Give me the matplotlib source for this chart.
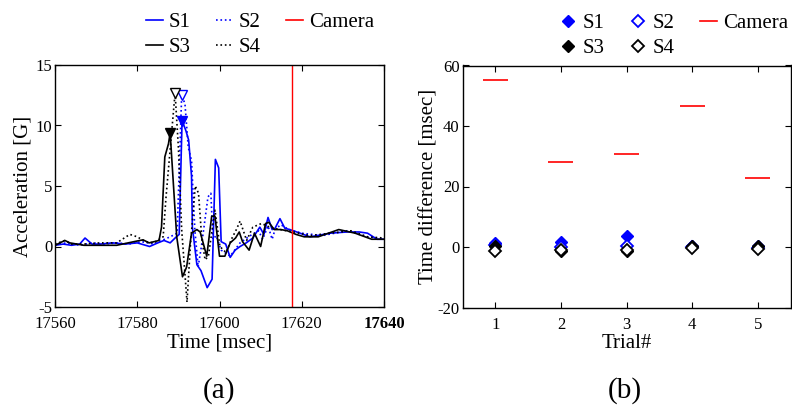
import matplotlib
matplotlib.use("Agg")
import matplotlib.pyplot as plt
import numpy as np
from matplotlib.lines import Line2D

plt.rcParams['font.family'] = ['Liberation Serif', 'DejaVu Serif']
plt.rcParams['axes.unicode_minus'] = False

# ---------------- data: panel (a) ----------------
s1_t = [17560, 17562, 17564, 17566, 17567.3, 17569, 17571, 17574, 17577, 17580, 17583,
        17585, 17586.5, 17588, 17589.2, 17590.2, 17590.9, 17591.8, 17592.5, 17593.2, 17593.4,
        17594.5, 17595.5, 17597.0, 17598.2, 17599.0, 17599.8, 17600.4, 17601.5, 17602.6,
        17603.8, 17605.0, 17606.5, 17608.1, 17609.8, 17610.8, 17611.8, 17612.8, 17613.5,
        17614.7, 17615.9, 17617.1, 17619.6, 17622, 17626.9, 17631, 17634, 17636, 17638.3, 17640]
s1_y = [0.1, 0.2, 0.1, 0.2, 0.7, 0.2, 0.2, 0.3, 0.2, 0.3, 0.0,
        0.3, 0.5, 0.3, 0.7, 1.0, 10.4, 9.6, 8.8, 5.8, 1.6,
        -1.5, -2.0, -3.4, -2.7, 7.2, 6.5, 0.4, 0.2, -0.9,
        -0.3, 0.0, 0.3, 0.7, 1.6, 1.0, 2.4, 1.4, 1.5,
        2.3, 1.5, 1.4, 1.1, 0.8, 1.1, 1.2, 1.2, 1.1, 0.6, 0.6]

s2_t = [17560, 17563, 17566, 17569, 17572, 17575, 17578, 17581, 17584, 17586, 17588.0,
        17589.7, 17590.8, 17591.6, 17592.4, 17593.2, 17594.0, 17594.8, 17595.6, 17597.2,
        17597.9, 17598.4, 17599.2, 17600.4, 17602.6, 17605.0, 17607.5, 17609.5, 17610.5,
        17611.8, 17612.8, 17613.5, 17614.9, 17616.9, 17620, 17625, 17631, 17636, 17638.3, 17640]
s2_y = [0.2, 0.3, 0.1, 0.3, 0.2, 0.3, 0.2, 0.4, 0.2, 0.5, 0.8,
        1.1, 12.5, 11.8, 8.2, 7.1, 1.4, -1.7, 0.0, 4.1,
        4.4, 0.6, 0.9, -0.3, -0.8, 0.3, 0.9, 1.3, 0.6,
        1.7, 0.6, 1.4, 1.8, 1.4, 1.1, 0.9, 1.3, 0.8, 0.7, 0.6]

s3_t = [17560, 17562.4, 17563.6, 17567, 17571, 17575, 17579.2, 17581.4, 17582.9, 17585.3,
        17585.9, 17586.7, 17587.6, 17588.0, 17589.6, 17591.0, 17592.0, 17593.2, 17594.5,
        17595.3, 17596.9, 17598.1, 17598.9, 17600.0, 17601.3, 17602.6, 17603.9, 17604.8,
        17605.6, 17607.2, 17608.5, 17610.0, 17611.2, 17612.0, 17613.3, 17614.9, 17616.5,
        17618.6, 17620.6, 17624.0, 17629.0, 17633, 17637, 17640]
s3_y = [0.1, 0.5, 0.3, 0.1, 0.1, 0.1, 0.4, 0.55, 0.3, 0.5,
        1.6, 7.4, 8.5, 9.4, 0.8, -2.5, -1.7, 1.1, 1.4,
        1.2, -0.8, 2.5, 2.5, -0.8, -0.8, 0.3, 0.7, 1.2,
        0.4, -0.3, 1.1, 0.0, 1.9, 2.0, 1.4, 1.4, 1.3,
        1.0, 0.8, 0.8, 1.4, 1.1, 0.6, 0.6]

s4_t = [17560, 17562.4, 17564, 17567, 17571, 17575, 17578.2, 17580, 17582, 17584, 17586.3,
        17587.0, 17589.2, 17590.0, 17590.8, 17592.1, 17592.9, 17594.1, 17594.9, 17595.7,
        17596.5, 17597.3, 17598.9, 17600.1, 17601.6, 17602.9, 17604.1, 17605.0, 17606.6,
        17608.1, 17610.2, 17612.2, 17614.7, 17618, 17622, 17627, 17632, 17636, 17640]
s4_y = [0.2, 0.5, 0.2, 0.2, 0.3, 0.3, 1.0, 0.8, 0.4, 0.3, 0.8,
        4.1, 12.7, 8.2, 1.4, -4.6, 0.0, 5.0, 4.4, 0.6,
        -1.1, -0.8, 3.0, 0.0, -0.5, 0.6, 1.4, 2.1, 0.5,
        1.6, 1.9, 1.6, 1.4, 1.2, 0.9, 1.1, 1.3, 0.8, 0.7]

camera_time = 17617.6

# ---------------- data: panel (b) ----------------
trials = [1, 2, 3, 4, 5]
b_s1 = [1.3, 1.7, 3.8, 0.3, 0.3]
b_s2 = [0.5, 0.0, 0.2, 0.0, -0.3]
b_s3 = [0.2, -1.4, -1.4, 0.2, 0.2]
b_s4 = [-1.2, -0.9, -1.0, -0.3, -0.6]
b_camera = [55.1, 28.0, 30.7, 46.5, 22.7]

BLUE = '#0000ff'
RED = '#ff0000'

fig = plt.figure(figsize=(7.92, 4.09), dpi=100)
W, H = 792.0, 409.0

def frac(x0, y0, x1, y1):
    return [x0 / W, 1 - y1 / H, (x1 - x0) / W, (y1 - y0) / H]

ax1 = fig.add_axes(frac(55, 65, 384, 307))
ax2 = fig.add_axes(frac(462.5, 65.5, 790.5, 307.5))

tick_fs = 12
label_fs = 15

for ax in (ax1, ax2):
    ax.tick_params(direction='in', length=4, width=0.8, top=True, right=True,
                   labelsize=tick_fs)
    ax.tick_params(axis='x', pad=6.5)
    ax.tick_params(axis='y', pad=2)
    for sp in ax.spines.values():
        sp.set_linewidth(1.0)

# panel (a)
lw = 1.2
ax1.plot(s1_t, s1_y, color=BLUE, lw=lw, ls='-', label='S1')
ax1.plot(s2_t, s2_y, color=BLUE, lw=lw, ls=':', label='S2')
ax1.plot(s3_t, s3_y, color='black', lw=lw, ls='-', label='S3')
ax1.plot(s4_t, s4_y, color='black', lw=lw, ls=':', label='S4')
ax1.axvline(camera_time, color=RED, lw=1.0, label='Camera')

for tt, yy, col, fill in [(s1_t, s1_y, BLUE, True), (s2_t, s2_y, BLUE, False),
                          (s3_t, s3_y, 'black', True), (s4_t, s4_y, 'black', False)]:
    i = int(np.argmax(yy))
    ax1.plot([tt[i]], [yy[i]], marker='v', ms=7, mec=col,
             mfc=col if fill else 'white', mew=1.0, ls='none', zorder=5)

ax1.set_xlim(17560, 17640)
ax1.set_ylim(-5, 15)
ax1.set_xticks([17560, 17580, 17600, 17620, 17640])
ax1.set_yticks([-5, 0, 5, 10, 15])
ax1.set_xlabel('Time [msec]', fontsize=label_fs, labelpad=1)
ax1.set_ylabel('Acceleration [G]', fontsize=label_fs, labelpad=2)
xtl = ax1.get_xticklabels()
xtl[-1].set_fontweight('bold')

# panel (b)
ms = 6.5
ax2.plot(trials, b_s1, ls='none', marker='D', ms=ms, mfc=BLUE, mec=BLUE, label='S1')
ax2.plot(trials, b_s2, ls='none', marker='D', ms=ms, mfc='white', mec=BLUE, mew=1.3, label='S2')
ax2.plot(trials, b_s3, ls='none', marker='D', ms=ms, mfc='black', mec='black', label='S3')
ax2.plot(trials, b_s4, ls='none', marker='D', ms=ms, mfc='white', mec='black', mew=1.3, label='S4')
ax2.hlines(b_camera, np.array(trials) - 0.19, np.array(trials) + 0.19, color=RED, lw=1.2)

ax2.set_xlim(0.5, 5.5)
ax2.set_ylim(-20, 60)
ax2.set_xticks(trials)
ax2.set_yticks([-20, 0, 20, 40, 60])
ax2.set_xlabel('Trial#', fontsize=label_fs, labelpad=1)
ax2.set_ylabel('Time difference [msec]', fontsize=label_fs)
ax2.yaxis.set_label_coords(-0.072, 0.5)

for ax in (ax1, ax2):
    for lab in ax.get_yticklabels():
        lab.set_verticalalignment('center_baseline')

# legends
h_a = [Line2D([], [], color=BLUE, lw=lw, ls='-'), Line2D([], [], color='black', lw=lw, ls='-'),
       Line2D([], [], color=BLUE, lw=lw, ls=':'), Line2D([], [], color='black', lw=lw, ls=':'),
       Line2D([], [], color=RED, lw=1.2)]
l_a = ['S1', 'S3', 'S2', 'S4', 'Camera']
fig.legend(h_a, l_a, loc='center', bbox_to_anchor=(260 / W, 1 - 35 / H), ncol=3,
           frameon=False, fontsize=label_fs, handlelength=0.8, handletextpad=0.3,
           columnspacing=1.2, labelspacing=0.25, borderpad=0)

h_b = [Line2D([], [], ls='none', marker='D', ms=ms, mfc=BLUE, mec=BLUE),
       Line2D([], [], ls='none', marker='D', ms=ms, mfc='black', mec='black'),
       Line2D([], [], ls='none', marker='D', ms=ms, mfc='white', mec=BLUE, mew=1.3),
       Line2D([], [], ls='none', marker='D', ms=ms, mfc='white', mec='black', mew=1.3),
       Line2D([], [], color=RED, lw=1.2)]
l_b = ['S1', 'S3', 'S2', 'S4', 'Camera']
fig.legend(h_b, l_b, loc='center', bbox_to_anchor=(674 / W, 1 - 36 / H), ncol=3,
           frameon=False, fontsize=label_fs, handlelength=0.8, handletextpad=0.3,
           columnspacing=1.2, labelspacing=0.25, borderpad=0)

fig.text(219.5 / W, 1 - 391 / H, '(a)', ha='center', va='center', fontsize=21)
fig.text(625 / W, 1 - 391 / H, '(b)', ha='center', va='center', fontsize=21)

fig.savefig('out.png', dpi=100)
